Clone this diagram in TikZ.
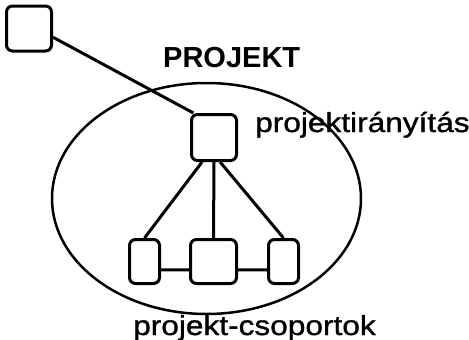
\documentclass[tikz,border=0pt]{standalone}
\usepackage{fontspec}
\setmainfont{Liberation Sans}
\newfontfamily\widefont[FakeStretch=1.15, FakeBold=1.2]{Liberation Sans}
\begin{document}
\begin{tikzpicture}[
x=1pt, y=-1pt,
box/.style={
draw,
line width=3pt,
rounded corners=6pt,
fill=white,
inner sep=0pt,
minimum height=44pt
},
link/.style={
line width=3pt
},
label/.style={
inner sep=0pt,
anchor=base west
}
]

\useasboundingbox (0,0) rectangle (469,340);

\draw[line width=2.5pt] (206.5,198.5) ellipse [x radius=154.5, y radius=115.5];

\node[box, minimum width=45pt, minimum height=45pt] (out) at (29,28.5) {};

\node[box, minimum width=45pt, minimum height=46pt] (pm) at (214,137.5) {};

\node[box, minimum width=30pt] (gl) at (144.5,261.5) {};

\node[box, minimum width=46pt] (gm) at (213.5,261.5) {};

\node[box, minimum width=30pt] (gr) at (283.5,261.5) {};

\draw[link] (out.-20) -- (pm.130);
\draw[link] (pm.-116) -- (gl.north);
\draw[link] (pm.south) -- (gm.north);
\draw[link] (pm.-76) -- (gr.north);
\draw[link] (gl.-27) -- (gm.-161);
\draw[link] (gm.-19) -- (gr.-153);

\node[label, font=\fontsize{29}{32}\selectfont\bfseries] (title) at (163,67)
{PROJEKT};

\node[label, font=\widefont\fontsize{27.5}{30}\selectfont] (pmlabel) at (255,132)
{projektirányítás};

\node[label, font=\widefont\fontsize{27.5}{30}\selectfont] (grouplabel) at (133,335)
{projekt-csoportok};

\end{tikzpicture}
\end{document}
